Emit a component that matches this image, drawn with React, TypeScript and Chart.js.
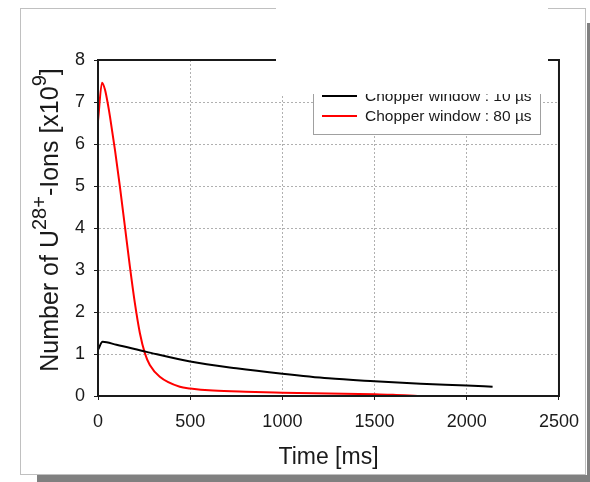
import React, { useEffect, useRef } from "react";
import { Chart, registerables } from "chart.js";

Chart.register(...registerables);

// ---- data ----
const timeRed = [0, 22, 38, 56, 65, 92, 119, 146, 173, 200, 227, 254, 281, 335, 444, 500, 624, 800, 1000, 1250, 1500, 1600, 1733];
const ionsRed = [6.55, 7.46, 7.29, 6.89, 6.65, 5.86, 4.98, 4.03, 3.08, 2.21, 1.5, 1.02, 0.74, 0.46, 0.22, 0.18, 0.13, 0.1, 0.08, 0.06, 0.04, 0.03, 0.0];

const timeBlack = [0, 25, 100, 263, 500, 750, 1000, 1250, 1500, 1750, 2000, 2140];
const ionsBlack = [1.1, 1.29, 1.22, 1.05, 0.82, 0.66, 0.53, 0.42, 0.35, 0.29, 0.25, 0.22];

const xTickValues = [0, 500, 1000, 1500, 2000, 2500];
const yTickValues = [0, 1, 2, 3, 4, 5, 6, 7, 8];

const seriesLabels = ["Chopper window : 10 \u00b5s", "Chopper window : 80 \u00b5s"];
const seriesColors = ["#000000", "#ff0000"];

const xTitle = "Time [ms]";
const yTitleParts = [
  { text: "Number of U", sup: false },
  { text: "28+", sup: true },
  { text: "-Ions [x10", sup: false },
  { text: "9", sup: true },
  { text: "]", sup: false },
];

const FONT = "'Liberation Sans', Arial, Helvetica, sans-serif";

const decorPlugin = {
  id: "decor",
  beforeDraw(chart: any) {
    const ctx = chart.ctx as CanvasRenderingContext2D;
    ctx.save();
    ctx.fillStyle = "#ffffff";
    ctx.fillRect(0, 0, chart.width, chart.height);
    // drop shadow
    ctx.fillStyle = "#808080";
    ctx.fillRect(587, 23, 3, 459);
    ctx.fillRect(37, 475, 553, 7);
    // outer frame
    ctx.strokeStyle = "#c0c0c0";
    ctx.lineWidth = 1;
    ctx.strokeRect(20.5, 8.5, 565, 466);
    ctx.restore();
  },
  afterDraw(chart: any) {
    const ctx = chart.ctx as CanvasRenderingContext2D;
    const a = chart.chartArea;
    ctx.save();
    // plot border
    ctx.strokeStyle = "#1a1a1a";
    ctx.lineWidth = 2;
    ctx.strokeRect(a.left, a.top, a.right - a.left, a.bottom - a.top);

    // legend
    const lx = 313.5, ly = 78.5, lw = 227, lh = 56;
    ctx.fillStyle = "#ffffff";
    ctx.fillRect(lx, ly, lw, lh);
    ctx.strokeStyle = "#a0a0a0";
    ctx.lineWidth = 1;
    ctx.strokeRect(lx, ly, lw, lh);
    ctx.font = `15.5px ${FONT}`;
    ctx.textBaseline = "middle";
    ctx.textAlign = "left";
    chart.data.datasets.forEach((ds: any, i: number) => {
      const y = 96 + i * 20;
      ctx.strokeStyle = ds.borderColor;
      ctx.lineWidth = 2;
      ctx.beginPath();
      ctx.moveTo(322, y);
      ctx.lineTo(357, y);
      ctx.stroke();
      ctx.fillStyle = "#1a1a1a";
      ctx.fillText(ds.label, 365, y + 1);
    });

    // white overlay covering the top-right region
    ctx.fillStyle = "#ffffff";
    ctx.fillRect(276, 0, 272, 94);

    // y axis title with superscripts
    const mainSize = 25, supSize = 20, raise = 12;
    let total = 0;
    yTitleParts.forEach((p) => {
      ctx.font = `${p.sup ? supSize : mainSize}px ${FONT}`;
      total += ctx.measureText(p.text).width;
    });
    ctx.translate(58, 220);
    ctx.rotate(-Math.PI / 2);
    ctx.fillStyle = "#1a1a1a";
    ctx.textBaseline = "alphabetic";
    let x = -total / 2;
    yTitleParts.forEach((p) => {
      ctx.font = `${p.sup ? supSize : mainSize}px ${FONT}`;
      ctx.fillText(p.text, x, p.sup ? -raise : 0);
      x += ctx.measureText(p.text).width;
    });
    ctx.restore();
  },
};

export default function App() {
  const ref = useRef<HTMLCanvasElement | null>(null);
  useEffect(() => {
    if (!ref.current) return;
    const chart = new Chart(ref.current, {
      type: "scatter",
      data: {
        datasets: [
          {
            label: seriesLabels[0],
            data: timeBlack.map((t, i) => ({ x: t, y: ionsBlack[i] })),
            borderColor: seriesColors[0],
            backgroundColor: seriesColors[0],
            borderWidth: 2,
            showLine: true,
            pointRadius: 0,
            cubicInterpolationMode: "monotone",
          },
          {
            label: seriesLabels[1],
            data: timeRed.map((t, i) => ({ x: t, y: ionsRed[i] })),
            borderColor: seriesColors[1],
            backgroundColor: seriesColors[1],
            borderWidth: 2,
            showLine: true,
            pointRadius: 0,
            cubicInterpolationMode: "monotone",
          },
        ],
      },
      options: {
        animation: false,
        responsive: false,
        devicePixelRatio: 1,
        layout: { padding: { left: 0, top: 60, right: 30, bottom: 0 } },
        plugins: { legend: { display: false }, tooltip: { enabled: false }, title: { display: false } },
        scales: {
          x: {
            type: "linear",
            min: 0,
            max: 2500,
            afterBuildTicks: (s: any) => {
              s.ticks = xTickValues.map((v) => ({ value: v }));
            },
            afterFit: (s: any) => {
              s.height = 86;
            },
            grid: { color: "#b0b0b0", lineWidth: 1, tickColor: "#1a1a1a", tickLength: 4, tickWidth: 1 },
            border: { display: true, color: "#1a1a1a", width: 2, dash: [2, 2] },
            ticks: {
              font: { family: FONT, size: 18 },
              color: "#1a1a1a",
              padding: 11,
              maxRotation: 0,
              callback: (v: any) => String(v),
            },
            title: {
              display: true,
              text: xTitle,
              font: { family: FONT, size: 23 },
              color: "#1a1a1a",
              padding: { top: 0, bottom: 11 },
            },
          },
          y: {
            type: "linear",
            min: 0,
            max: 8,
            afterBuildTicks: (s: any) => {
              s.ticks = yTickValues.map((v) => ({ value: v }));
            },
            afterFit: (s: any) => {
              s.width = 98;
            },
            grid: { color: "#b0b0b0", lineWidth: 1, tickColor: "#1a1a1a", tickLength: 4, tickWidth: 1 },
            border: { display: true, color: "#1a1a1a", width: 2, dash: [2, 2] },
            ticks: {
              font: { family: FONT, size: 18 },
              color: "#1a1a1a",
              padding: 9,
              callback: (v: any) => String(v),
            },
          },
        },
      },
      plugins: [decorPlugin],
    } as any);
    return () => chart.destroy();
  }, []);
  return (
    <div style={{ position: "absolute", left: 0, top: 0, width: 590, height: 482 }}>
      <canvas ref={ref} width={590} height={482} style={{ display: "block", width: 590, height: 482 }} />
    </div>
  );
}
